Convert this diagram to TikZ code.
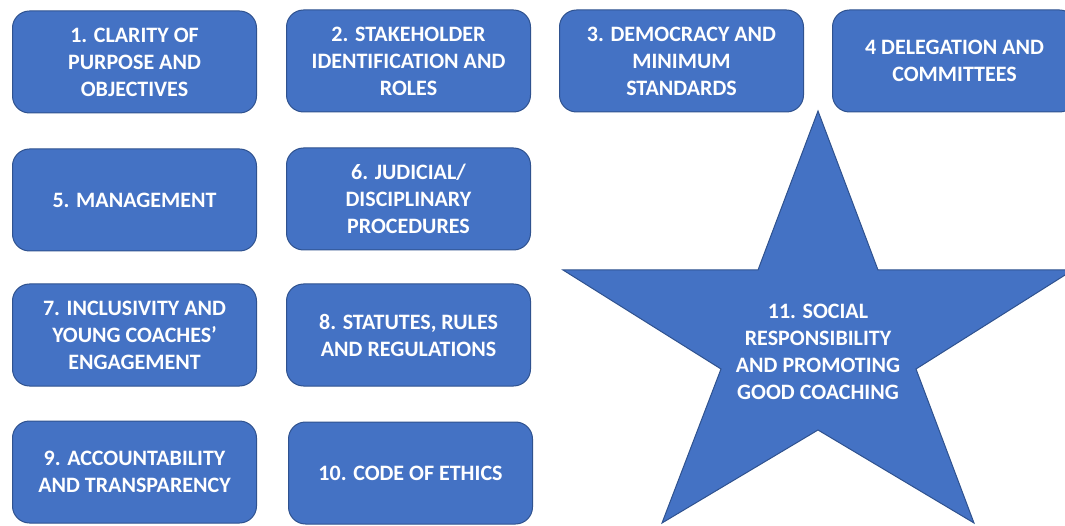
\documentclass[tikz,border=0pt]{standalone}
\usepackage{fontspec}
\setmainfont{Carlito}
\definecolor{ofblue}{HTML}{4472C4}
\definecolor{ofborder}{HTML}{2F528F}
\begin{document}
\begin{tikzpicture}[x=1pt,y=-1pt,
  box/.style={rectangle, rounded corners=17pt, fill=ofblue, draw=ofborder, line width=1pt,
    minimum width=244pt, minimum height=102pt, inner sep=0pt, text=white, align=center,
    font=\fontsize{22}{27}\selectfont\bfseries},
  starshape/.style={fill=ofblue, draw=ofborder, line width=1pt},
  startext/.style={text=white, align=center, inner sep=0pt, font=\fontsize{22}{27}\selectfont\bfseries}]
\useasboundingbox (0,0) rectangle (1065,526);
\begin{scope}
\clip (0,0) rectangle (1065,526);
\node[box] (b1) at (134.5,62) {1. CLARITY OF\\PURPOSE AND\\OBJECTIVES};
\node[box] (b2) at (408.5,61) {2. STAKEHOLDER\\IDENTIFICATION AND\\ROLES};
\node[box] (b3) at (681.5,61) {3. DEMOCRACY AND\\MINIMUM\\STANDARDS};
\node[box] (b4) at (954.5,61) {4 DELEGATION AND\\COMMITTEES};
\node[box] (b5) at (134.5,200) {5. MANAGEMENT};
\node[box] (b6) at (408.5,199) {6. JUDICIAL/\\DISCIPLINARY\\PROCEDURES};
\node[box] (b7) at (134.5,335) {7. INCLUSIVITY AND\\YOUNG COACHES’\\ENGAGEMENT};
\node[box] (b8) at (408.5,335) {8. STATUTES, RULES\\AND REGULATIONS};
\node[box] (b9) at (134.5,472) {9. ACCOUNTABILITY\\AND TRANSPARENCY};
\node[box] (b10) at (410.5,473) {10. CODE OF ETHICS};
\draw[starshape] (818,111) -- (878,270) -- (1073,270) -- (916,369) -- (974,523) -- (818,430)
  -- (662,523) -- (721,369) -- (563,270) -- (758,270) -- cycle;
\node[startext] (s11) at (818,352) {11. SOCIAL\\RESPONSIBILITY\\AND PROMOTING\\GOOD COACHING};
\end{scope}
\end{tikzpicture}
\end{document}
